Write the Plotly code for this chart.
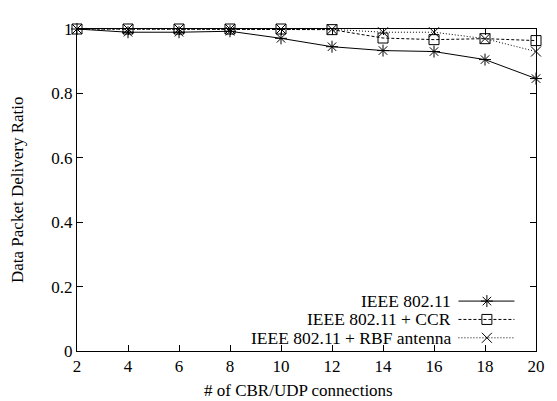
import plotly.graph_objects as go

x_vals = [2, 4, 6, 8, 10, 12, 14, 16, 18, 20]
ieee = [1.0, 0.99, 0.99, 0.993, 0.971, 0.945, 0.933, 0.93, 0.905, 0.846]
ccr = [1.0, 1.0, 1.0, 1.0, 1.0, 0.998, 0.972, 0.967, 0.97, 0.964]
rbf = [1.0, 1.0, 1.0, 1.0, 1.0, 0.999, 0.99, 0.99, 0.97, 0.93]
names = ["IEEE 802.11", "IEEE 802.11 + CCR", "IEEE 802.11 + RBF antenna"]
dashes = ["solid", "3px,2px", "1px,2px"]
symbols = ["asterisk-open", "square-open", "x-thin-open"]
series = [ieee, ccr, rbf]

FONT = "Liberation Serif"
fig = go.Figure()
for ys, nm, ds, sy in zip(series, names, dashes, symbols):
    fig.add_trace(go.Scatter(
        x=x_vals, y=ys, name=nm, mode="lines+markers",
        line=dict(color="black", width=1, dash=ds),
        marker=dict(symbol=sy, size=10, color="black", line=dict(color="black", width=1)),
        showlegend=False, cliponaxis=False))

# custom legend (text left of sample, as in the reference)
leg_y = [0.155, 0.098, 0.041]
for ly, nm, ds, sy in zip(leg_y, names, dashes, symbols):
    fig.add_trace(go.Scatter(
        x=[0.831, 0.893, 0.953], y=[ly, ly, ly], mode="lines",
        line=dict(color="black", width=1, dash=ds),
        xaxis="x2", yaxis="y2", showlegend=False, hoverinfo="skip"))
    fig.add_trace(go.Scatter(
        x=[0.893], y=[ly], mode="markers",
        marker=dict(symbol=sy, size=10, color="black", line=dict(color="black", width=1)),
        xaxis="x2", yaxis="y2", showlegend=False, hoverinfo="skip"))
    fig.add_annotation(x=0.816, y=ly, xref="paper", yref="paper", text=nm,
                       showarrow=False, xanchor="right", yanchor="middle",
                       height=16, valign="middle", borderpad=0,
                       font=dict(family=FONT, size=17.5, color="black"))

# axis titles
fig.add_annotation(x=0.5, y=0, xref="paper", yref="paper", text="# of CBR/UDP connections",
                   showarrow=False, xanchor="center", yanchor="middle", xshift=-8, yshift=-39,
                   font=dict(family=FONT, size=17, color="black"))
fig.add_annotation(x=0, y=0.5, xref="paper", yref="paper", text="Data Packet Delivery Ratio",
                   showarrow=False, xanchor="center", yanchor="middle", xshift=-60, textangle=-90,
                   font=dict(family=FONT, size=17, color="black"))

axis_common = dict(showgrid=False, zeroline=False, showline=True, linecolor="black",
                   linewidth=1, mirror="ticks", ticks="inside", ticklen=6,
                   tickcolor="black", tickfont=dict(family=FONT, size=17, color="black"))
fig.update_layout(
    width=549, height=393,
    margin=dict(l=69, r=13, t=12, b=50),
    paper_bgcolor="white", plot_bgcolor="white",
    font=dict(family=FONT, color="black"),
    xaxis=dict(range=[2, 20], tickvals=x_vals, **axis_common),
    yaxis=dict(range=[0, 1], tickvals=[0, 0.2, 0.4, 0.6, 0.8, 1],
               ticktext=["0", "0.2", "0.4", "0.6", "0.8", "1"], **axis_common),
    xaxis2=dict(range=[0, 1], overlaying="x", visible=False),
    yaxis2=dict(range=[0, 1], overlaying="y", visible=False),
)
fig.write_html("out.html")
